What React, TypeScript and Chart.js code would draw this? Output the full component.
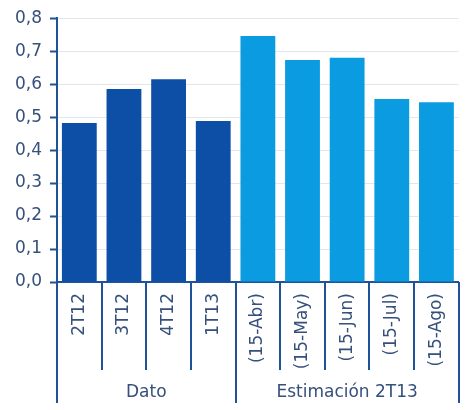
import React, { useEffect, useRef } from "react";
import { Chart, registerables } from "chart.js";

Chart.register(...registerables);

// Quarterly data and mid-month estimates
const categories = ["2T12", "3T12", "4T12", "1T13", "(15-Abr)", "(15-May)", "(15-Jun)", "(15-Jul)", "(15-Ago)"];
const values = [0.482, 0.585, 0.615, 0.488, 0.746, 0.673, 0.68, 0.555, 0.545];
const barColors = ["#0d4ea6", "#0d4ea6", "#0d4ea6", "#0d4ea6", "#0a9be0", "#0a9be0", "#0a9be0", "#0a9be0", "#0a9be0"];
const groups = ["Dato", "Estimación 2T13"];
const groupSizes = [4, 5];
const yTicks = [0, 0.1, 0.2, 0.3, 0.4, 0.5, 0.6, 0.7, 0.8];

const AXIS = "#1f5299";
const TEXT = "#36507c";
const FONT = "'DejaVu Sans', sans-serif";

// Draws category separators beneath the x axis and the group labels
const separatorsPlugin = {
  id: "separators",
  afterDraw(chart: any) {
    const { ctx, chartArea, scales } = chart;
    const x = scales.x;
    const n = categories.length;
    const step = x.getPixelForValue(1) - x.getPixelForValue(0);
    const edge = (i: number) => x.getPixelForValue(i) - step / 2;
    const top = chartArea.bottom;
    const groupEnds = new Set<number>([0]);
    let acc = 0;
    groupSizes.forEach((s) => { acc += s; groupEnds.add(acc); });
    ctx.save();
    ctx.strokeStyle = AXIS;
    ctx.lineWidth = 2;
    for (let i = 0; i <= n; i++) {
      const px = Math.round(edge(i));
      const long = groupEnds.has(i);
      ctx.beginPath();
      ctx.moveTo(px, top);
      ctx.lineTo(px, top + (long ? 121 : 88));
      ctx.stroke();
    }
    ctx.fillStyle = TEXT;
    ctx.font = `17px ${FONT}`;
    ctx.textAlign = "center";
    ctx.textBaseline = "middle";
    let start = 0;
    groups.forEach((g, gi) => {
      const end = start + groupSizes[gi];
      const cx = (edge(start) + edge(end)) / 2;
      ctx.fillText(g, cx, top + 111);
      start = end;
    });
    ctx.restore();
  },
};

export default function App() {
  const ref = useRef<HTMLCanvasElement>(null);
  useEffect(() => {
    document.body.style.margin = "0";
    const chart = new Chart(ref.current!, {
      type: "bar",
      data: {
        labels: categories,
        datasets: [
          {
            data: values,
            backgroundColor: barColors,
            categoryPercentage: 0.78,
            barPercentage: 1,
          },
        ],
      },
      options: {
        animation: false,
        responsive: false,
        layout: { padding: { top: 7, right: 3, left: 0, bottom: 0 } },
        plugins: { legend: { display: false }, tooltip: { enabled: false } },
        scales: {
          x: {
            grid: { display: false, drawTicks: false },
            border: { color: AXIS, width: 2 },
            ticks: {
              minRotation: 90,
              maxRotation: 90,
              padding: 11,
              color: TEXT,
              font: { family: FONT, size: 17 },
            },
            afterFit(scale: any) {
              scale.height = 128;
            },
          },
          y: {
            min: 0,
            max: 0.8,
            afterBuildTicks(scale: any) {
              scale.ticks = yTicks.map((v) => ({ value: v }));
            },
            grid: {
              color: "#e3e7ec",
              lineWidth: 1,
              drawTicks: true,
              tickLength: 7,
              tickColor: AXIS,
              tickWidth: 2,
            } as any,
            border: { color: AXIS, width: 2 },
            ticks: {
              padding: 8,
              color: TEXT,
              font: { family: FONT, size: 17 },
              callback: (v: any) => Number(v).toFixed(1).replace(".", ","),
            },
            afterFit(scale: any) {
              scale.width = 57;
            },
          },
        },
      },
      plugins: [separatorsPlugin],
    });
    return () => chart.destroy();
  }, []);
  return (
    <div style={{ width: 468, height: 410, background: "#fff" }}>
      <canvas ref={ref} width={468} height={410} />
    </div>
  );
}
